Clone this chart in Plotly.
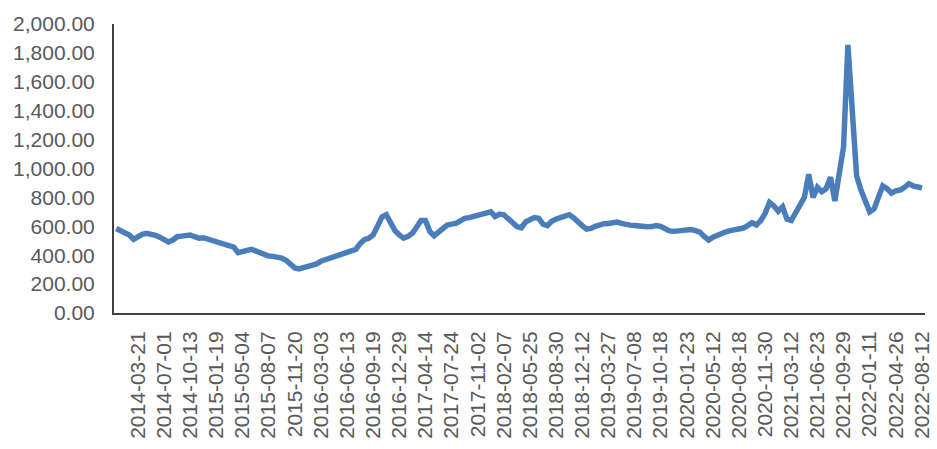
import pandas as pd
import plotly.graph_objects as go

tick_labels = ["2014-03-21","2014-07-01","2014-10-13","2015-01-19","2015-05-04","2015-08-07",
               "2015-11-20","2016-03-03","2016-06-13","2016-09-19","2016-12-29","2017-04-14",
               "2017-07-24","2017-11-02","2018-02-07","2018-05-25","2018-08-30","2018-12-12",
               "2019-03-27","2019-07-08","2019-10-18","2020-01-23","2020-05-12","2020-08-18",
               "2020-11-30","2021-03-12","2021-06-23","2021-09-29","2022-01-11","2022-04-26",
               "2022-08-12"]

values_2014_2015 = [585, 568, 555, 540, 510, 530, 545, 552, 548, 538, 525, 510, 492, 505, 528, 532,
                    535, 540, 528, 517, 521, 512, 502, 486, 477, 472, 462, 455, 418, 425, 438, 441,
                    430, 415, 400, 394, 392, 388, 380, 365, 335, 312, 305, 314, 322, 326]
values_2016_2017 = [340, 358, 368, 376, 385, 394, 402, 411, 425, 440, 480, 508, 518, 540, 600, 665,
                    680, 625, 570, 540, 518, 530, 552, 595, 640, 640, 565, 535, 560, 585, 608, 615,
                    620, 638, 655, 660, 668, 672, 678]
values_2018_2019 = [688, 700, 668, 685, 680, 648, 620, 598, 590, 630, 645, 660, 655, 615, 605, 635,
                    650, 662, 668, 680, 660, 638, 605, 580, 585, 600, 612, 618, 620, 625, 630, 620,
                    610, 608, 605, 600, 600, 597, 598, 605, 600, 580, 568, 565]
values_2020_2022 = [570, 575, 575, 578, 570, 560, 530, 505, 525, 540, 555, 562, 570, 575, 580, 588,
                    605, 625, 610, 640, 690, 765, 740, 705, 735, 650, 640, 700, 755, 800, 960, 800,
                    870, 840, 860, 940, 775, 950, 1150, 1855, 1400, 950, 850, 760, 700, 720, 790, 880,
                    860, 830, 845, 851, 870, 895, 880, 872, 865]

values = values_2014_2015 + values_2016_2017 + values_2018_2019 + values_2020_2022

# category dates: sampled points between the labelled dates
L = pd.to_datetime(tick_labels)
step0 = (L[1] - L[0]) / 6
cats = [L[0] - j * step0 for j in range(5, 0, -1)]
for k in range(len(L) - 1):
    cats += list(pd.date_range(L[k], L[k + 1], periods=7)[:-1])
cats.append(L[-1])
dates = [d.strftime("%Y-%m-%d") for d in cats]

fig = go.Figure()
fig.add_trace(go.Scatter(x=dates, y=values, mode="lines",
                         line=dict(color="#4a7ebb", width=5.5), showlegend=False))

font_family = "Liberation Sans, Arial, sans-serif"
fig.update_layout(
    width=937, height=449,
    margin=dict(l=114, r=12, t=24, b=136, autoexpand=False),
    paper_bgcolor="white", plot_bgcolor="white",
    font=dict(family=font_family, size=21, color="#595959"),
)
fig.update_xaxes(type="category", tickvals=tick_labels, ticktext=tick_labels,
                 tickangle=-90, range=[-0.5, len(values) - 1 + 0.7], autorange=False,
                 automargin=False,
                 showline=True, linecolor="#404040", linewidth=2,
                 showgrid=False, ticks="", ticklabelstandoff=8,
                 tickfont=dict(size=21))
fig.update_yaxes(range=[0, 2000], dtick=200, tickformat=",.2f", automargin=False,
                 showline=True, linecolor="#404040", linewidth=2,
                 showgrid=False, zeroline=False, ticks="", ticklabelstandoff=13,
                 tickfont=dict(size=21))

fig.write_html("out.html", config={"displayModeBar": False},
               post_script="document.body.style.margin='0';")
